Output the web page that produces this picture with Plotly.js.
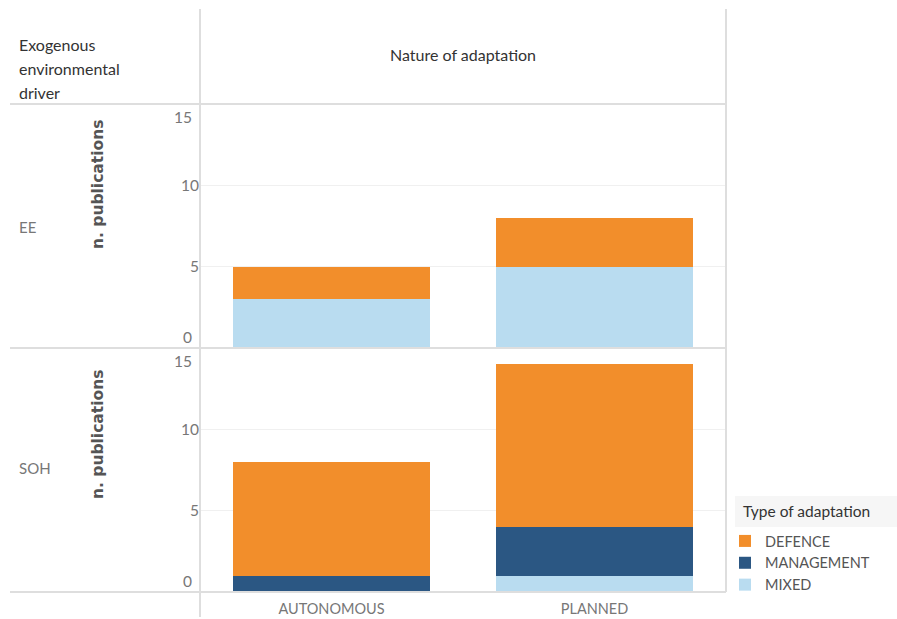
<!DOCTYPE html>
<html>
<head>
<meta charset="utf-8">
<script src="https://cdn.plot.ly/plotly-3.0.1.min.js"></script>
<style>html,body{margin:0;padding:0;background:#fff;}#chart{width:897px;height:619px;}</style>
</head>
<body>
<div id="chart"></div>
<script>
// ---- data ----
var categories = ['AUTONOMOUS', 'PLANNED'];
var drivers = ['EE', 'SOH'];
var types = ['MIXED', 'MANAGEMENT', 'DEFENCE'];
var eeMixed = [3, 5];
var eeManagement = [0, 0];
var eeDefence = [2, 3];
var sohMixed = [0, 1];
var sohManagement = [1, 3];
var sohDefence = [7, 10];
var yTickVals = [0, 5, 10, 15];
var yTickText = ['0', '5', '10', '15'];
var rowHeaderLines = ['Exogenous', 'environmental', 'driver'];
var colHeader = 'Nature of adaptation';
var legendTitle = 'Type of adaptation';
var yTitle = 'n. publications';

var colors = {MIXED: '#b9dcf0', MANAGEMENT: '#2b5783', DEFENCE: '#f28e2b'};
var W = 897, H = 619;
function px(x) { return x / W; }
function py(y) { return 1 - y / H; }

var FONT = 'Lato, "Open Sans", sans-serif';
var panels = [
  {axis: 'y', xaxis: 'x', vals: {MIXED: eeMixed, MANAGEMENT: eeManagement, DEFENCE: eeDefence}, legend: true},
  {axis: 'y2', xaxis: 'x2', vals: {MIXED: sohMixed, MANAGEMENT: sohManagement, DEFENCE: sohDefence}, legend: false}
];
var traces = [];
panels.forEach(function (p) {
  types.forEach(function (t) {
    traces.push({
      type: 'bar', name: t, x: categories, y: p.vals[t],
      xaxis: p.xaxis, yaxis: p.axis, width: 0.75,
      marker: {color: colors[t], line: {width: 0}},
      legendgroup: t, showlegend: p.legend, hoverinfo: 'x+y+name'
    });
  });
});

var lineC = '#dedede';
function hline(y, x0, x1) {
  return {type: 'line', xref: 'paper', yref: 'paper', x0: px(x0), x1: px(x1), y0: py(y), y1: py(y), line: {color: lineC, width: 2}};
}
function vline(x, y0, y1) {
  return {type: 'line', xref: 'paper', yref: 'paper', x0: px(x), x1: px(x), y0: py(y0), y1: py(y1), line: {color: lineC, width: 2}};
}
var shapes = [
  hline(104, 10, 726), hline(348, 10, 726), hline(592, 10, 726),
  vline(200, 9, 617), vline(726, 9, 592),
  {type: 'rect', xref: 'paper', yref: 'paper', x0: px(735), x1: px(897), y0: py(496), y1: py(527), fillcolor: '#f6f6f6', line: {width: 0}, layer: 'below'}
];

var annotations = [];
var headerY = [44, 68, 92];
rowHeaderLines.forEach(function (s, i) {
  annotations.push({text: s, xref: 'paper', yref: 'paper', x: px(17), y: py(headerY[i]), xanchor: 'left', yanchor: 'middle', showarrow: false, font: {family: FONT, size: 16, color: '#333'}});
});
annotations.push(
  {text: colHeader, xref: 'paper', yref: 'paper', x: px(463), y: py(55), xanchor: 'center', yanchor: 'middle', showarrow: false, font: {family: FONT, size: 16, color: '#333'}},
  {text: legendTitle, xref: 'paper', yref: 'paper', x: px(741), y: py(511), xanchor: 'left', yanchor: 'middle', showarrow: false, font: {family: FONT, size: 15.5, color: '#333'}},
  {text: drivers[0], xref: 'paper', yref: 'paper', x: px(17), y: py(227), xanchor: 'left', yanchor: 'middle', showarrow: false, font: {family: FONT, size: 15, color: '#777'}},
  {text: drivers[1], xref: 'paper', yref: 'paper', x: px(17), y: py(468), xanchor: 'left', yanchor: 'middle', showarrow: false, font: {family: FONT, size: 15, color: '#777'}},
  {text: yTitle, textangle: -90, xref: 'paper', yref: 'paper', x: px(98), y: py(185), xanchor: 'center', yanchor: 'middle', showarrow: false, font: {family: '"DejaVu Sans", sans-serif', size: 15.5, color: '#555', weight: 'bold'}},
  {text: yTitle, textangle: -90, xref: 'paper', yref: 'paper', x: px(98), y: py(435), xanchor: 'center', yanchor: 'middle', showarrow: false, font: {family: '"DejaVu Sans", sans-serif', size: 15.5, color: '#555', weight: 'bold'}}
);
// end tick labels (0 and 15) shifted inside the panel, Tableau style
['y', 'y2'].forEach(function (ax) {
  annotations.push({text: yTickText[0], xref: 'paper', yref: ax, x: px(194), y: yTickVals[0], yshift: 11, xanchor: 'right', yanchor: 'middle', showarrow: false, font: {family: FONT, size: 15.5, color: '#777'}});
  annotations.push({text: yTickText[3], xref: 'paper', yref: ax, x: px(194), y: yTickVals[3], yshift: -13, xanchor: 'right', yanchor: 'middle', showarrow: false, font: {family: FONT, size: 15.5, color: '#777'}});
});

function yax(domain) {
  return {domain: domain, range: [0, 15], tickvals: yTickVals.slice(1, 3), ticktext: yTickText.slice(1, 3),
    showgrid: true, gridcolor: '#f0f0f0', gridwidth: 1, zeroline: false, showline: false, ticks: '',
    tickfont: {family: FONT, size: 15.5, color: '#777'}, fixedrange: true};
}
var layout = {
  width: W, height: H, margin: {l: 0, r: 0, t: 0, b: 0},
  paper_bgcolor: '#fff', plot_bgcolor: 'rgba(0,0,0,0)',
  barmode: 'stack', bargap: 0.25,
  font: {family: FONT},
  xaxis: {domain: [px(200), px(726)], anchor: 'y', showticklabels: false, ticks: '', showline: false, showgrid: false, zeroline: false, type: 'category'},
  xaxis2: {domain: [px(200), px(726)], anchor: 'y2', ticks: '', showline: false, showgrid: false, zeroline: false, type: 'category',
    ticklabelstandoff: 6, tickfont: {family: FONT, size: 14.5, color: '#777'}},
  yaxis: yax([py(348), py(104)]),
  yaxis2: yax([py(592), py(348)]),
  legend: {x: px(725), y: py(525), xanchor: 'left', yanchor: 'top', traceorder: 'reversed', bgcolor: 'rgba(0,0,0,0)',
    font: {family: FONT, size: 14.5, color: '#555'}, itemwidth: 30},
  shapes: shapes, annotations: annotations
};
Plotly.newPlot('chart', traces, layout, {displayModeBar: false, staticPlot: true});
</script>
</body>
</html>
